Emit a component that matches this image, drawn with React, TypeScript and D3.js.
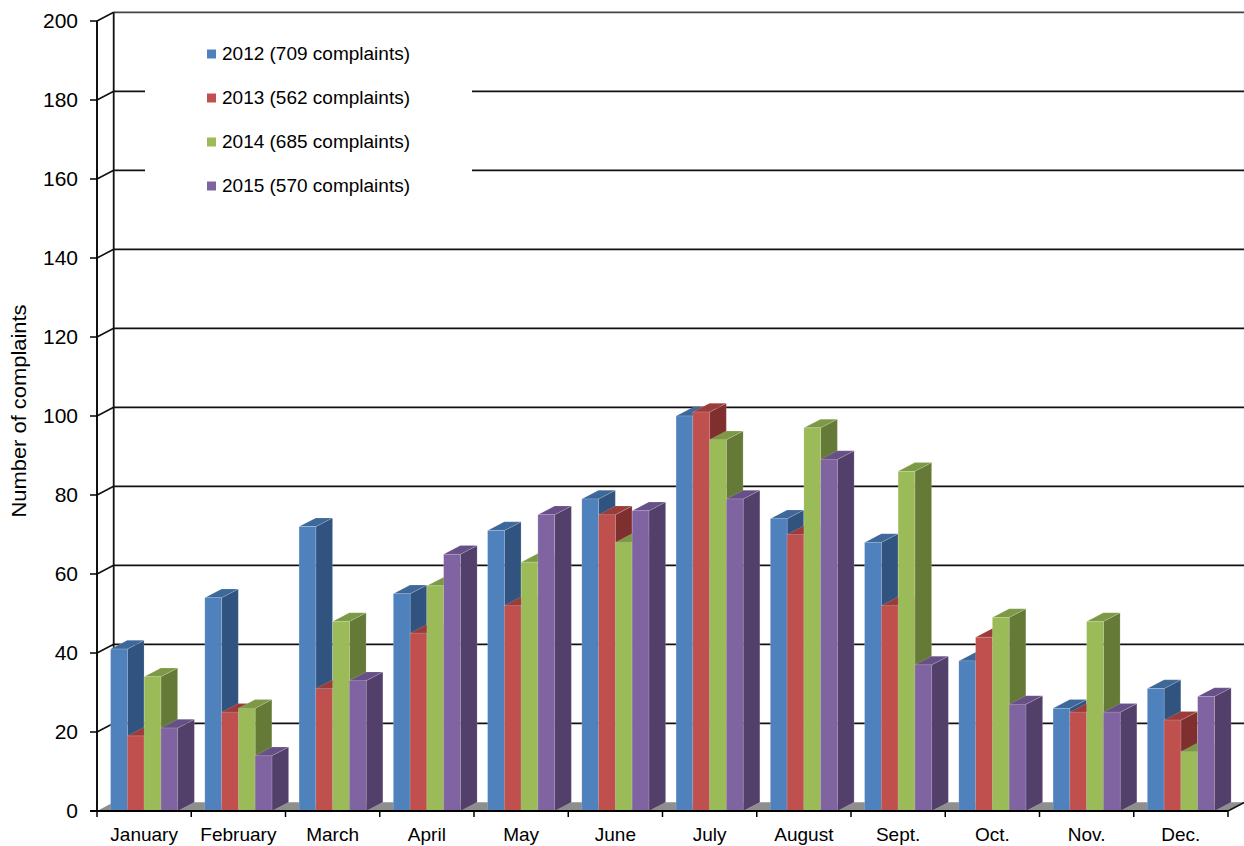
import React from 'react';
import * as d3 from 'd3';

const months = ['January', 'February', 'March', 'April', 'May', 'June', 'July', 'August', 'Sept.', 'Oct.', 'Nov.', 'Dec.'];
const years = ['2012', '2013', '2014', '2015'];
const legendLabels = ['2012 (709 complaints)', '2013 (562 complaints)', '2014 (685 complaints)', '2015 (570 complaints)'];

const values2012 = [41, 54, 72, 55, 71, 79, 100, 74, 68, 38, 26, 31];
const values2013 = [19, 25, 31, 45, 52, 75, 101, 70, 52, 44, 25, 23];
const values2014 = [34, 26, 48, 57, 63, 68, 94, 97, 86, 49, 48, 15];
const values2015 = [21, 14, 33, 65, 75, 76, 79, 89, 37, 27, 25, 29];

const yTicks = [0, 20, 40, 60, 80, 100, 120, 140, 160, 180, 200];

const series = [values2012, values2013, values2014, values2015];

// front / side / top colours per series
const colors = [
  { front: '#4f81bd', side: '#30547f', top: '#3d6899' },
  { front: '#c0504d', side: '#7f302e', top: '#9b3c3a' },
  { front: '#9bbb59', side: '#667a37', top: '#7c9a45' },
  { front: '#8064a2', side: '#523f6a', top: '#674f88' },
];

const W = 1244;
const H = 846;
const DX = 16.7; // depth offset
const DY = -8.7;

const App: React.FC = () => {
  const x = d3.scaleBand<string>().domain(months).range([97, 1228]);
  const inner = d3.scaleBand<string>().domain(years).range([0, x.bandwidth()]).paddingInner(0).paddingOuter(0.81);
  const y = d3.scaleLinear().domain([0, 200]).range([811, 21]);
  const y0 = y(0);
  const left = x.range()[0];
  const right = x.range()[1];

  const bars: React.ReactNode[] = [];
  months.forEach((m, mi) => {
    years.forEach((yr, si) => {
      const v = series[si][mi];
      const x0 = (x(m) as number) + (inner(yr) as number);
      const w = inner.bandwidth();
      const yt = y(v);
      const c = colors[si];
      bars.push(
        <g key={`${m}-${yr}`}>
          <polygon
            points={`${x0 + w},${yt} ${x0 + w + DX},${yt + DY} ${x0 + w + DX},${y0 + DY} ${x0 + w},${y0}`}
            fill={c.side}
            stroke="rgba(255,255,255,0.25)"
            strokeWidth={0.6}
          />
          <polygon
            points={`${x0},${yt} ${x0 + DX},${yt + DY} ${x0 + w + DX},${yt + DY} ${x0 + w},${yt}`}
            fill={c.top}
            stroke="rgba(255,255,255,0.25)"
            strokeWidth={0.6}
          />
          <rect x={x0} y={yt} width={w} height={y0 - yt} fill={c.front} stroke="rgba(255,255,255,0.25)" strokeWidth={0.6} />
        </g>
      );
    });
  });

  const boundaries = d3.range(months.length + 1).map((i) => left + i * x.step());

  return (
    <svg width={W} height={H} style={{ position: 'absolute', left: 0, top: 0, background: '#fff' }} fontFamily="'Liberation Sans', Arial, sans-serif">
      {/* back wall gridlines */}
      {yTicks.filter((t) => t > 0).map((t) => (
        <g key={t}>
          <line x1={left + DX} x2={right + DX} y1={y(t) + DY} y2={y(t) + DY} stroke={t === 200 ? '#444' : '#111'} strokeWidth={1.8} />
          <line x1={left} x2={left + DX} y1={y(t)} y2={y(t) + DY} stroke="#111" strokeWidth={1.6} />
        </g>
      ))}
      {/* walls */}
      <line x1={left + DX} x2={left + DX} y1={y(200) + DY} y2={y0 + DY} stroke="#111" strokeWidth={1.8} />
      <line x1={right + DX} x2={right + DX} y1={y(200) + DY} y2={y0 + DY} stroke="#777" strokeWidth={1.5} />
      <line x1={left} x2={left} y1={y(200)} y2={y0} stroke="#111" strokeWidth={2} />

      {/* floor */}
      <polygon
        points={`${left},${y0} ${right},${y0} ${right + DX},${y0 + DY} ${left + DX},${y0 + DY}`}
        fill="#8e8e8e"
      />
      <line x1={right} x2={right + DX} y1={y0} y2={y0 + DY} stroke="#111" strokeWidth={1.5} />

      {/* legend */}
      <rect x={145} y={28} width={327} height={180} fill="#fff" />
      {legendLabels.map((label, i) => (
        <g key={label} transform={`translate(207, ${54 + i * 44})`}>
          <rect x={0} y={-4.5} width={9} height={9} fill={colors[i].front} />
          <text x={15} y={0} dy="0.35em" fontSize={18} textLength={188} lengthAdjust="spacingAndGlyphs" fill="#000">{label}</text>
        </g>
      ))}

      {bars}

      {/* front axes */}
      <line x1={left - 7} x2={right} y1={y0} y2={y0} stroke="#000" strokeWidth={2} />
      {yTicks.map((t) => (
        <g key={t}>
          <line x1={left - 7} x2={left} y1={y(t)} y2={y(t)} stroke="#000" strokeWidth={1.5} />
          <text x={78} y={y(t)} dy="0.35em" textAnchor="end" fontSize={21} fill="#000">{t}</text>
        </g>
      ))}
      {boundaries.map((bx, i) => (
        <line key={i} x1={bx} x2={bx} y1={y0} y2={y0 + 6} stroke="#000" strokeWidth={1.5} />
      ))}
      {months.map((m) => (
        <text key={m} x={(x(m) as number) + x.bandwidth() / 2} y={841} textAnchor="middle" fontSize={19} fill="#000">{m}</text>
      ))}

      <text transform="translate(26, 411) rotate(-90)" textAnchor="middle" fontSize={20} textLength={213} lengthAdjust="spacingAndGlyphs" fill="#000">Number of complaints</text>
    </svg>
  );
};

export default App;
